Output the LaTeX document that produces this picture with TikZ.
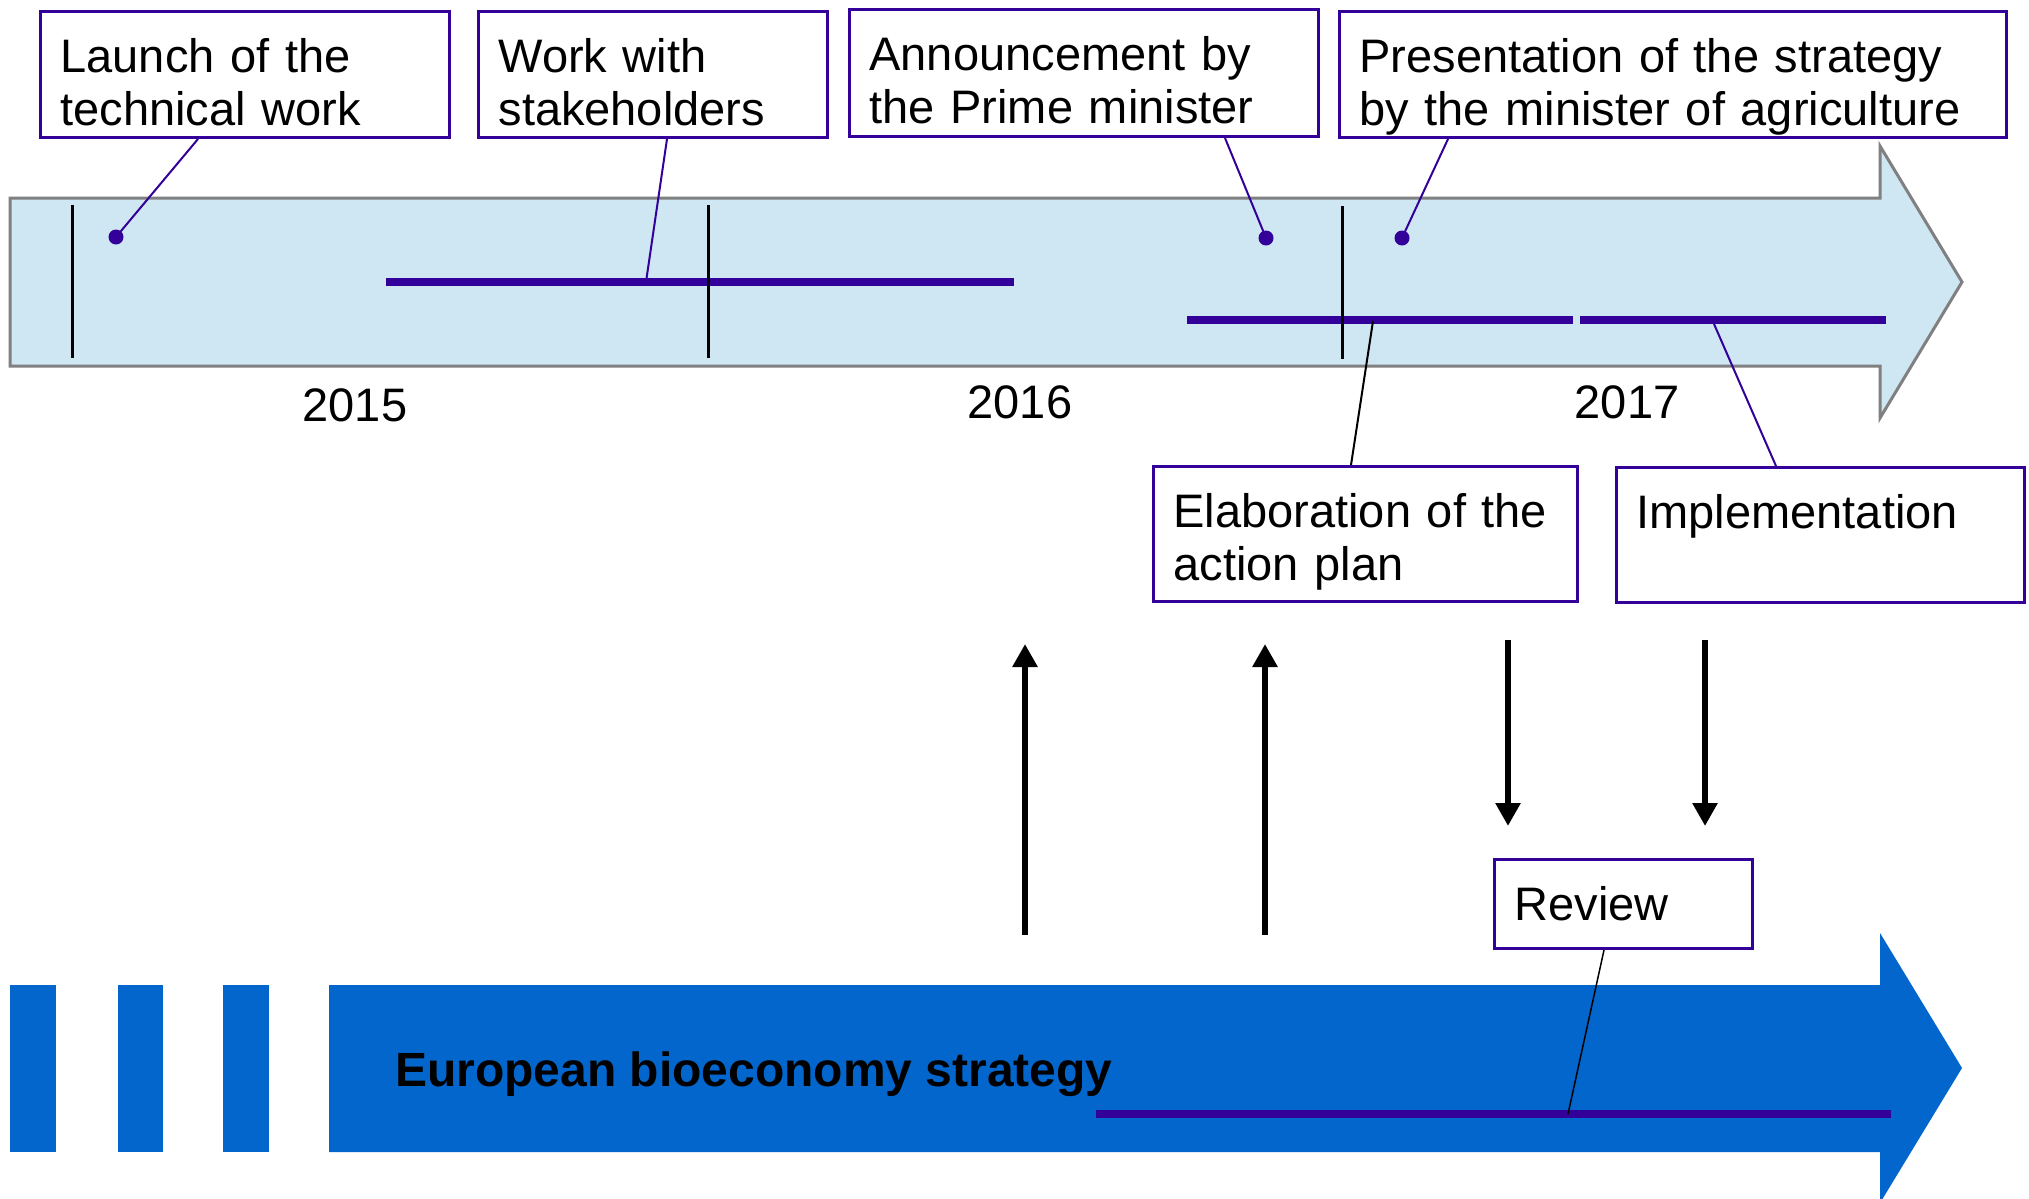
\documentclass[tikz,border=0pt]{standalone}
\usepackage{fontspec}
\setmainfont{Liberation Sans}
\usetikzlibrary{arrows.meta}
\definecolor{purp}{RGB}{51,0,153}
\definecolor{lblue}{RGB}{207,230,243}
\definecolor{eublue}{RGB}{3,102,204}
\definecolor{outl}{RGB}{128,128,128}
\newcommand\boxfont{\fontsize{47}{53}\selectfont}
\newcommand\eufont{\fontsize{48}{52}\selectfont\bfseries}
\begin{document}
\begin{tikzpicture}[x=1pt,y=-1pt,
  tbox/.style={draw=purp, line width=3pt, fill=white, anchor=north west,
    align=left, inner xsep=20pt, inner ysep=0pt, font=\boxfont,
    execute at begin node={\rule{0pt}{61pt}},
    execute at end node={\rule[-#1pt]{0pt}{#1pt}}},
  yearlab/.style={font=\boxfont, anchor=base, inner sep=0pt},
  evdot/.style={circle, fill=purp, inner sep=0pt, minimum size=15pt},
  bar/.style={draw=purp, line width=7.5pt},
  tickline/.style={draw=black, line width=3pt},
  conn/.style={draw=purp, line width=2pt},
  bigarrow/.style={draw=black, line width=6.5pt, -{Triangle[width=24pt,length=23pt]}}]

\useasboundingbox (0,0) rectangle (2029,1199);

% light blue timeline arrow
\draw[fill=lblue, draw=outl, line width=3pt]
  (10,198) -- (1880,198) -- (1880,146) -- (1962,282) -- (1880,418)
  -- (1880,366) -- (10,366) -- cycle;

% activity bars
\coordinate (wkA) at (386,282);   \coordinate (wkB) at (1014,282);
\coordinate (elA) at (1187,320);  \coordinate (elB) at (1573,320);
\coordinate (imA) at (1580,320);  \coordinate (imB) at (1886,320);
\draw[bar] (wkA) -- (wkB);
\draw[bar] (elA) -- (elB);
\draw[bar] (imA) -- (imB);

% year ticks
\coordinate (t1a) at (72,205);   \coordinate (t1b) at (72,358);
\coordinate (t2a) at (708,205);  \coordinate (t2b) at (708,358);
\coordinate (t3a) at (1342,206); \coordinate (t3b) at (1342,359);
\draw[tickline] (t1a) -- (t1b);
\draw[tickline] (t2a) -- (t2b);
\draw[tickline] (t3a) -- (t3b);

% event dots
\node[evdot] (dl) at (116,237) {};
\node[evdot] (da) at (1266,238) {};
\node[evdot] (dp) at (1402,238) {};

% years
\node[yearlab] (y15) at (355,421) {2015};
\node[yearlab] (y16) at (1020,418) {2016};
\node[yearlab] (y17) at (1627,418) {2017};

% boxes
\node[tbox=12, text width=369pt] (launch) at (39,10) {Launch of the\\technical work};
\node[tbox=12, text width=309pt] (work) at (477,10) {Work with\\stakeholders};
\node[tbox=13, text width=429pt] (announce) at (848,8) {Announcement by\\the Prime minister};
\node[tbox=12, text width=627pt] (present) at (1338,10) {Presentation of the strategy\\by the minister of agriculture};
\node[tbox=21, text width=384pt] (elab) at (1152,465) {Elaboration of the\\action plan};
\node[tbox=74, text width=368pt] (impl) at (1615,466) {Implementation};
\node[tbox=28, text width=218pt] (review) at (1493,858) {Review};

% connectors
\coordinate (wk) at (646,282);
\coordinate (el) at (1373,321);
\coordinate (im) at (1714,324);
\coordinate (rv) at (1568,1114);
\draw[conn] (launch.south west) ++(159,0) -- (dl.center);
\draw[conn] (work.south west) ++(190,0) -- (wk);
\draw[conn] (announce.south west) ++(377,0) -- (da.center);
\draw[conn] (present.south west) ++(110,0) -- (dp.center);
\draw[draw=black, line width=2pt] (elab.north west) ++(199,0) -- (el);
\draw[conn] (impl.north west) ++(161,0) -- (im);

% vertical arrows
\coordinate (u1s) at (1025,935); \coordinate (u1e) at (1025,644);
\coordinate (u2s) at (1265,935); \coordinate (u2e) at (1265,644);
\coordinate (d1s) at (1508,640); \coordinate (d1e) at (1508,826);
\coordinate (d2s) at (1705,640); \coordinate (d2e) at (1705,826);
\draw[bigarrow] (u1s) -- (u1e);
\draw[bigarrow] (u2s) -- (u2e);
\draw[bigarrow] (d1s) -- (d1e);
\draw[bigarrow] (d2s) -- (d2e);

% European strategy arrow
\fill[eublue] (10,985) rectangle (56,1152);
\fill[eublue] (118,985) rectangle (163,1152);
\fill[eublue] (223,985) rectangle (269,1152);
\fill[eublue] (329,985) -- (1880,985) -- (1880,933) -- (1962,1068)
  -- (1880,1203) -- (1880,1152) -- (329,1152) -- cycle;
\node[font=\eufont, anchor=base west, inner sep=0pt] (eu) at (395,1086) {European bioeconomy strategy};
\coordinate (rvA) at (1096,1114); \coordinate (rvB) at (1891,1114);
\draw[bar] (rvA) -- (rvB);
\draw[draw=black, line width=1.5pt] (review.south west) ++(111,0) -- (rv);

\end{tikzpicture}
\end{document}
